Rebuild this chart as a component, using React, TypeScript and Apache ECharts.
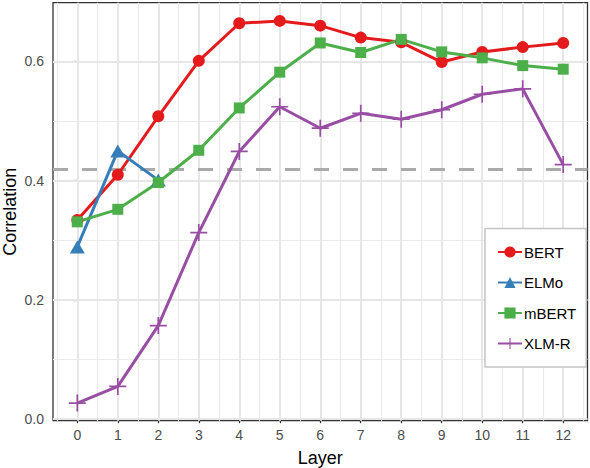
import { useEffect, useRef } from "react";
import * as echarts from "echarts";

const layers = [0, 1, 2, 3, 4, 5, 6, 7, 8, 9, 10, 11, 12];
const bert = [0.334, 0.41, 0.508, 0.601, 0.664, 0.668, 0.66, 0.64, 0.632, 0.599, 0.616, 0.624, 0.631];
const elmo = [0.289, 0.45, 0.401];
const mbert = [0.331, 0.352, 0.397, 0.451, 0.522, 0.582, 0.631, 0.615, 0.637, 0.616, 0.606, 0.593, 0.587];
const xlmr = [0.027, 0.055, 0.157, 0.313, 0.449, 0.524, 0.488, 0.513, 0.503, 0.519, 0.545, 0.554, 0.427];
const baseline = 0.419;

const yTicks = [0, 0.2, 0.4, 0.6];
const yMinor = [0.1, 0.3, 0.5];
const xMinor = [-0.5, 0.5, 1.5, 2.5, 3.5, 4.5, 5.5, 6.5, 7.5, 8.5, 9.5, 10.5, 11.5, 12.5];

const FONT = "Liberation Sans, Arial, sans-serif";
const PLUS = "path://M9,0h2v9h9v2h-9v9h-2v-9h-9v-2h9z";

function pairs(values: number[]) {
  return values.map((v, i) => [layers[i], v]);
}

export default function App() {
  const ref = useRef<HTMLDivElement | null>(null);

  useEffect(() => {
    const el = ref.current;
    if (!el) {
      return;
    }
    const chart = echarts.init(el, null, { renderer: "svg" });

    const gridLines = (major: boolean) => ({
      silent: true,
      symbol: ["none", "none"],
      label: { show: false },
      z: 1,
      lineStyle: {
        color: major ? "#e6e6e6" : "#ebebeb",
        width: major ? 2 : 1.2,
        type: "solid",
      },
      data: major
        ? [...layers.map((x) => ({ xAxis: x })), ...yTicks.map((y) => ({ yAxis: y }))]
        : [...xMinor.map((x) => ({ xAxis: x })), ...yMinor.map((y) => ({ yAxis: y }))],
    });

    const lineSeries = (
      name: string,
      values: number[],
      color: string,
      symbol: string,
      symbolSize: number | number[],
    ) => ({
      name,
      type: "line",
      data: pairs(values),
      z: 10,
      symbol,
      symbolSize,
      showAllSymbol: true,
      lineStyle: { color, width: 3 },
      itemStyle: { color },
      emphasis: { disabled: true },
    });

    chart.setOption({
      animation: false,
      backgroundColor: "#ffffff",
      grid: {
        left: 53,
        right: 2.5,
        top: 2.7,
        bottom: 47.3,
        outerBoundsMode: "none",
        containLabel: false,
        show: true,
        backgroundColor: "#ffffff",
        borderColor: "#333333",
        borderWidth: 1.3,
      },
      xAxis: {
        type: "value",
        min: -0.6,
        max: 12.6,
        name: "Layer",
        nameLocation: "middle",
        nameGap: 28,
        nameTextStyle: { color: "#000", fontSize: 18, fontFamily: FONT },
        axisLine: { show: false },
        splitLine: { show: false },
        axisTick: {
          show: true,
          length: 4,
          customValues: layers,
          lineStyle: { color: "#333333", width: 1.2 },
        },
        axisLabel: {
          customValues: layers,
          color: "#4d4d4d",
          fontSize: 14,
          fontFamily: FONT,
          margin: 7,
        },
      },
      yAxis: {
        type: "value",
        min: -0.0025,
        max: 0.6985,
        name: "Correlation",
        nameLocation: "middle",
        nameGap: 34,
        nameMoveOverlap: false,
        nameTextStyle: { color: "#000", fontSize: 18, fontFamily: FONT },
        axisLine: { show: false },
        splitLine: { show: false },
        axisTick: {
          show: true,
          length: 4,
          customValues: yTicks,
          lineStyle: { color: "#333333", width: 1.2 },
        },
        axisLabel: {
          customValues: yTicks,
          color: "#4d4d4d",
          fontSize: 14,
          fontFamily: FONT,
          margin: 9,
          formatter: (v: number) => v.toFixed(1),
        },
      },
      legend: {
        orient: "vertical",
        left: 485,
        top: 228.5,
        padding: [16, 10, 16, 12],
        itemWidth: 24,
        itemHeight: 14,
        itemGap: 15.5,
        borderColor: "#c4c4c4",
        borderWidth: 1.5,
        backgroundColor: "#ffffff",
        selectedMode: false,
        textStyle: { color: "#000", fontSize: 15, fontFamily: FONT, padding: [0, 0, 0, -3] },
        data: ["BERT", "ELMo", "mBERT", "XLM-R"],
      },
      series: [
        {
          type: "line",
          data: [],
          silent: true,
          markLine: gridLines(false),
        },
        {
          type: "line",
          data: [],
          silent: true,
          markLine: gridLines(true),
        },
        {
          type: "line",
          data: [],
          silent: true,
          markLine: {
            silent: true,
            symbol: ["none", "none"],
            label: { show: false },
            z: 2,
            lineStyle: { color: "#aaaaaa", width: 3.2, type: [15, 14] },
            data: [{ yAxis: baseline }],
          },
        },
        lineSeries("BERT", bert, "#e41a1c", "circle", 12),
        lineSeries("ELMo", elmo, "#377eb8", "triangle", [15, 13]),
        lineSeries("mBERT", mbert, "#4daf4a", "rect", 11),
        lineSeries("XLM-R", xlmr, "#984ea3", PLUS, 17),
      ],
    });

    return () => {
      chart.dispose();
    };
  }, []);

  return (
    <div
      ref={ref}
      style={{ position: "absolute", left: 0, top: 0, width: 590, height: 468 }}
    />
  );
}
